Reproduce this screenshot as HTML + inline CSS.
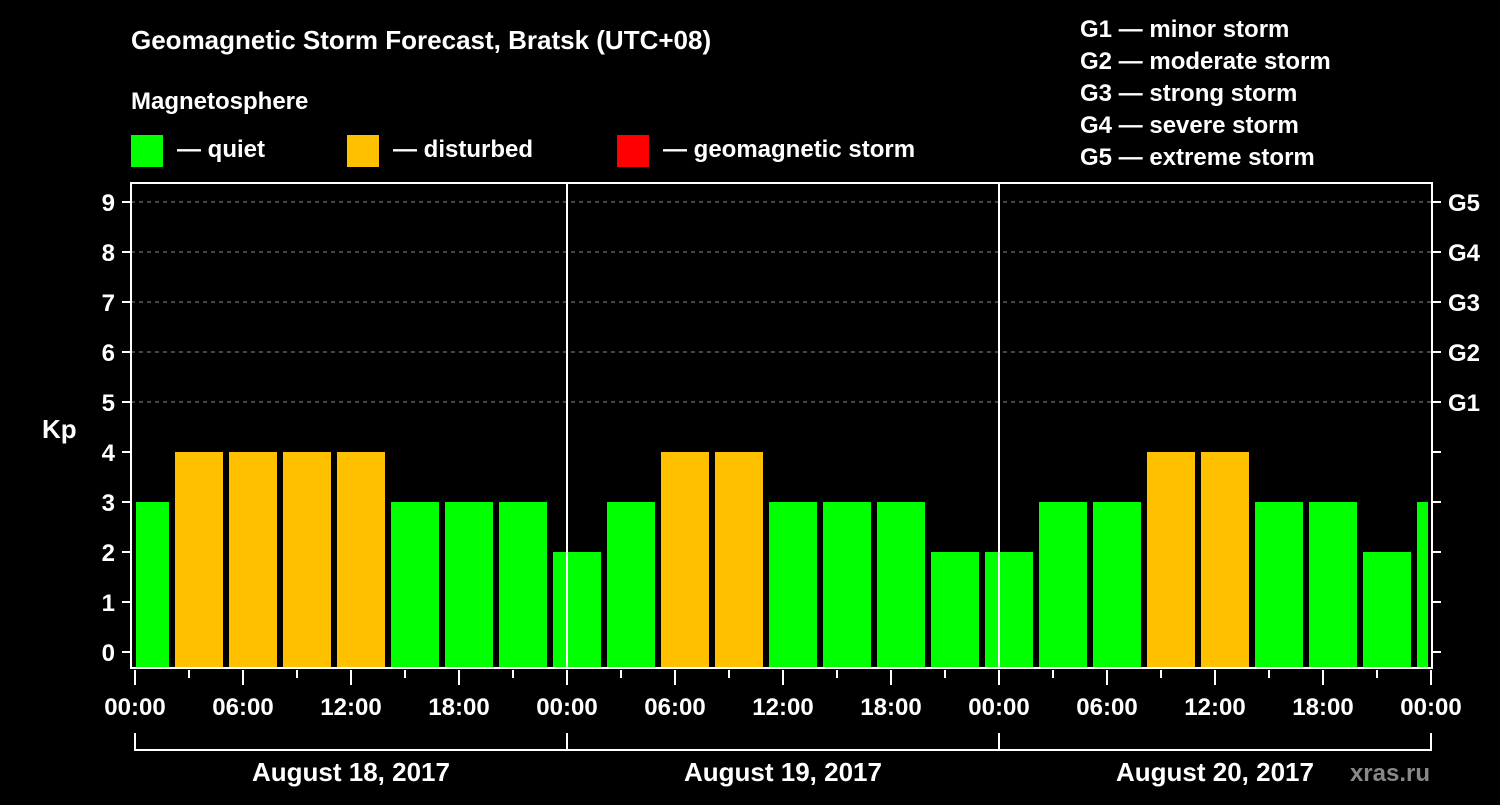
<!DOCTYPE html>
<html><head><meta charset="utf-8"><style>
body{margin:0;background:#000;width:1500px;height:800px;overflow:hidden}
svg text{font-family:"Liberation Sans",Arial,sans-serif;font-weight:bold;fill:#fff}
</style></head><body>
<svg id="c" width="1500" height="800">
<text x="131" y="49" font-size="26">Geomagnetic Storm Forecast, Bratsk (UTC+08)</text>
<text x="131" y="109" font-size="24">Magnetosphere</text>
<g><rect x="131" y="135" width="32" height="32" fill="#00ff00"/><text x="177" y="157" font-size="24">— quiet</text></g>
<g><rect x="347" y="135" width="32" height="32" fill="#ffc000"/><text x="393" y="157" font-size="24">— disturbed</text></g>
<g><rect x="617" y="135" width="32" height="32" fill="#ff0000"/><text x="663" y="157" font-size="24">— geomagnetic storm</text></g>
<g font-size="24">
<text x="1080" y="37">G1 — minor storm</text><text x="1080" y="69">G2 — moderate storm</text><text x="1080" y="101">G3 — strong storm</text><text x="1080" y="133">G4 — severe storm</text><text x="1080" y="165">G5 — extreme storm</text></g>
<text x="42" y="438" font-size="26">Kp</text>
<text x="1430" y="781" font-size="24" fill="#888" style="fill:#888" text-anchor="end">xras.ru</text>
<g id="grid"></g><g id="bars"></g><g id="axes"></g>
</svg>
<script>
const kpValues=[3,4,4,4,4,3,3,3,2,3,4,4,3,3,3,2,2,3,3,4,4,3,3,2,3];
const yTicks=[0,1,2,3,4,5,6,7,8,9];
const gLabels=["G1","G2","G3","G4","G5"];
const timeLabels=["00:00","06:00","12:00","18:00","00:00","06:00","12:00","18:00","00:00","06:00","12:00","18:00","00:00"];
const dayLabels=["August 18, 2017","August 19, 2017","August 20, 2017"];
const NS="http://www.w3.org/2000/svg";
const L=131,R=1432,T=183,B=668,X0=135,DAY=432;
const xh=h=>X0+h*DAY/24;
const y=v=>652-v*50;
function mk(p,tag,a){const e=document.createElementNS(NS,tag);for(const k in a)e.setAttribute(k,a[k]);p.appendChild(e);return e;}
const grid=document.getElementById('grid'),bars=document.getElementById('bars'),ax=document.getElementById('axes');
for(let v=5;v<=9;v++){const l=mk(grid,'line',{x1:L,x2:R,y1:y(v),y2:y(v),stroke:'#888','stroke-dasharray':'4,4'});

}
kpValues.forEach((v,i)=>{
 const s=-1+3*i;let x1=xh(s)+4,x2=xh(s+3)-2;x1=Math.max(x1,L+5);x2=Math.min(x2,R-4);
 const col=v>=5?'#ff0000':v>=4?'#ffc000':'#00ff00';
 const r=mk(bars,'rect',{x:x1,y:y(v),width:x2-x1,height:B-y(v),fill:col});
 
 
});
for(let d=1;d<3;d++){const l=mk(ax,'line',{x1:xh(24*d),x2:xh(24*d),y1:T,y2:B,stroke:'#fff','stroke-width':2});

}
const fr=mk(ax,'rect',{x:L,y:T,width:R-L,height:B-T,fill:'none',stroke:'#fff','stroke-width':2});


yTicks.forEach(v=>{
 mk(ax,'line',{x1:122,x2:L,y1:y(v),y2:y(v),stroke:'#fff','stroke-width':2});
 mk(ax,'line',{x1:R,x2:R+9,y1:y(v),y2:y(v),stroke:'#fff','stroke-width':2});
 const t=mk(ax,'text',{x:115,y:y(v)+9,'font-size':24,'text-anchor':'end'});t.textContent=v;
 
 
});
gLabels.forEach((g,i)=>{const t=mk(ax,'text',{x:1448,y:y(5+i)+9,'font-size':24});t.textContent=g;
 
 });
for(let h=0;h<=72;h+=3){mk(ax,'line',{x1:xh(h),x2:xh(h),y1:B+2,y2:h%6==0?B+17:B+10,stroke:'#fff','stroke-width':2});}
timeLabels.forEach((s,i)=>{const t=mk(ax,'text',{x:xh(i*6),y:715,'font-size':24,'text-anchor':'middle'});t.textContent=s;
 
 });
mk(ax,'path',{d:`M${xh(0)},733V750H${xh(72)}V733M${xh(24)},733V750M${xh(48)},733V750`,stroke:'#fff','stroke-width':2,fill:'none'});
dayLabels.forEach((s,i)=>{const t=mk(ax,'text',{x:xh(24*i+12),y:781,'font-size':26,'text-anchor':'middle'});t.textContent=s;
 
 });
</script>
</body></html>
